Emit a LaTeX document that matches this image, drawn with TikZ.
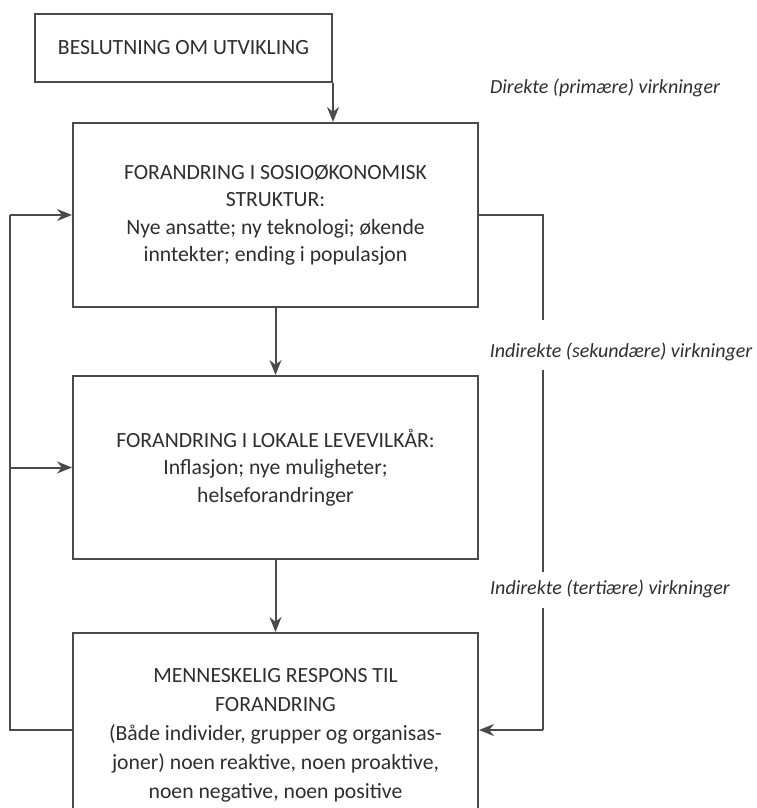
\documentclass[tikz,border=0pt]{standalone}
\usepackage{fontspec}
\setmainfont{Carlito}
\usetikzlibrary{arrows.meta}
\definecolor{linegray}{HTML}{4A4A4A}
\definecolor{textgray}{HTML}{2E2E2E}
\tikzset{
  box/.style={draw=linegray, line width=2pt, rectangle, align=center, text=textgray,
    font=\fontsize{21.7}{27.5}\selectfont, inner sep=0pt},
  conn/.style={draw=linegray, line width=2pt},
  arr/.style={conn, -{Stealth[length=15pt,width=12pt]}},
  lbl/.style={text=textgray, font=\fontsize{20}{22}\selectfont\itshape, inner sep=0pt}
}
\begin{document}
\begin{tikzpicture}[x=1pt,y=-1pt]
\useasboundingbox (0,0) rectangle (757,808);
\clip (0,0) rectangle (757,808);
\node[box, minimum width=297pt, minimum height=68pt] (b0) at (183.5,48) {BESLUTNING OM UTVIKLING};
\node[box, minimum width=405pt, minimum height=184pt] (b1) at (275.5,215)
  {FORANDRING I SOSIOØKONOMISK\\STRUKTUR:\\Nye ansatte; ny teknologi; økende\\inntekter; ending i populasjon};
\node[box, minimum width=405pt, minimum height=183pt] (b2) at (275.5,467.5)
  {FORANDRING I LOKALE LEVEVILKÅR:\\Inflasjon; nye muligheter;\\helseforandringer};
\node[box, font=\fontsize{21.7}{29}\selectfont, minimum width=405pt, minimum height=204pt] (b3) at (275.5,735)
  {MENNESKELIG RESPONS TIL\\FORANDRING\\(Både individer, grupper og organisas-\\joner) noen reaktive, noen proaktive,\\noen negative, noen positive};

\node[lbl] (l1) at (605,88) {Direkte (primære) virkninger};
\node[lbl] (l2) at (621,352) {Indirekte (sekundære) virkninger};
\node[lbl] (l3) at (610,589) {Indirekte (tertiære) virkninger};

\draw[arr] (b0.south east) -- (b0.south east |- b1.north);
\draw[arr] (b1.south) -- (b2.north);
\draw[arr] (b2.south) -- (b3.north);

\coordinate (lb) at (10,730);
\coordinate (lt) at (10,215);
\coordinate (lm) at (10,467.5);
\draw[conn] (b3.west |- lb) -- (lb) -- (lt);
\draw[arr] (lt) -- (b1.west);
\draw[arr] (lm) -- (b2.west);

\coordinate (r1) at (543,215);
\coordinate (r2) at (543,320);
\coordinate (r3) at (543,370);
\coordinate (r4) at (543,572);
\coordinate (r5) at (543,608);
\coordinate (r6) at (543,730);
\draw[conn] (b1.east) -- (r1) -- (r2);
\draw[conn] (r3) -- (r4);
\draw[conn] (r5) -- (r6);
\draw[arr] (r6) -- (b3.east |- r6);
\end{tikzpicture}
\end{document}
